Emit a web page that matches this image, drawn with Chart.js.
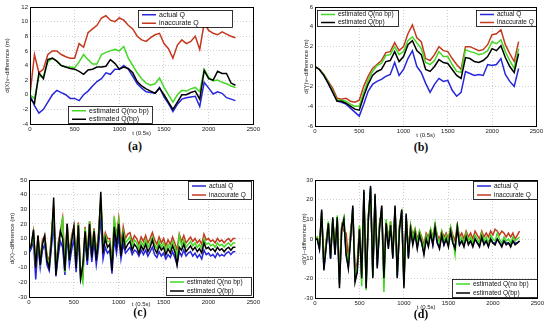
<!DOCTYPE html>
<html>
<head>
<meta charset="utf-8">
<script src="https://cdn.jsdelivr.net/npm/chart.js@4.4.1/dist/chart.umd.min.js"></script>
<style>
  body { margin: 0; background: #fff; width: 550px; height: 334px; position: relative; overflow: hidden; }
  canvas { position: absolute; }
  .tag { position: absolute; font: bold 12px "Liberation Serif", "DejaVu Serif", serif; transform: translate(-50%, -50%); color: #111; }
</style>
</head>
<body>
<canvas id="chart-a" width="262" height="137" style="left:0;top:0"></canvas>
<canvas id="chart-b" width="242" height="139" style="left:303px;top:0"></canvas>
<canvas id="chart-c" width="262" height="141" style="left:0;top:167px"></canvas>
<canvas id="chart-d" width="245" height="144" style="left:301px;top:167px"></canvas>
<div class="tag" style="left:135px;top:146px">(a)</div>
<div class="tag" style="left:421px;top:147px">(b)</div>
<div class="tag" style="left:140px;top:312px">(c)</div>
<div class="tag" style="left:421px;top:314px">(d)</div>
<script>
// time axis, t in units of 0.5 s
const T50 = [0, 50, 100, 150, 200, 250, 300, 350, 400, 450, 500, 550, 600, 650, 700, 750, 800, 850, 900, 950,
  1000, 1050, 1100, 1150, 1200, 1250, 1300, 1350, 1400, 1450, 1500, 1550, 1600, 1650, 1700, 1750, 1800, 1850, 1900, 1950,
  2000, 2050, 2100, 2150, 2200, 2250, 2300]
const T25 = [0, 25, 50, 75, 100, 125, 150, 175, 200, 225, 250, 275, 300, 325, 350, 375, 400, 425, 450, 475,
  500, 525, 550, 575, 600, 625, 650, 675, 700, 725, 750, 775, 800, 825, 850, 875, 900, 925, 950, 975,
  1000, 1025, 1050, 1075, 1100, 1125, 1150, 1175, 1200, 1225, 1250, 1275, 1300, 1325, 1350, 1375, 1400, 1425, 1450, 1475,
  1500, 1525, 1550, 1575, 1600, 1625, 1650, 1675, 1700, 1725, 1750, 1775, 1800, 1825, 1850, 1875, 1900, 1925, 1950, 1975,
  2000, 2025, 2050, 2075, 2100, 2125, 2150, 2175, 2200, 2225, 2250, 2275, 2300]

// (a)
const A_ACTUAL = [0, -1.5, -2.5, -2, -1, 0, 0.6, 0.3, 0, -0.5, -0.5, -0.8, 0, 0.5, 1.2, 1.8, 2.2, 3, 2.8, 3.5,
  3.5, 4, 3.5, 2.5, 1.5, 0.9, 0.4, 0.3, 0.2, 1, -0.3, -1.2, -2.3, -1.3, -0.6, -0.4, -0.3, -0.2, -1.6, 1.7,
  0.9, 0.1, 0.4, 0.2, -0.4, -0.6, -0.8]
const A_INACC = [0, 5.5, 3, 3.5, 5.5, 6, 6, 5.5, 5.2, 5, 5, 7, 6.5, 8.5, 9, 9.5, 10.5, 10.8, 10.2, 10,
  10.5, 10.2, 9.5, 9, 8, 7.5, 7.3, 7.8, 8.2, 8.4, 7, 6.3, 5, 6.8, 7.5, 7, 7.3, 8, 6.2, 9.8,
  8.8, 8.4, 8.2, 8.6, 8.3, 8, 7.8]
const A_NOBP = [0, -0.5, 2.5, 2.5, 4.5, 5, 4.6, 4, 3.8, 3.8, 3.7, 4.5, 5.5, 4.8, 4.2, 4.2, 5.5, 5.8, 6, 6.2,
  6, 6.6, 5, 4, 3, 2.2, 1.6, 1.3, 1.5, 2.3, 1, 0, -1, 0, 0.6, 0.5, 0.8, 1, 0.4, 3.5,
  2.4, 1.9, 2, 1.7, 1.5, 1.2, 1]
const A_BP = [-0.5, -1.2, 3, 2.2, 4.8, 5, 4.6, 4, 3.8, 3.6, 3.5, 3.2, 2.8, 3.4, 3.5, 3.8, 3.8, 3.9, 4.8, 4.3,
  3.5, 3.8, 3.6, 3, 1.8, 1.2, 0.8, 0.5, 0.2, 0.9, 0, -1, -2, -1, 0, 0, 0.3, 0.5, -0.6, 3.3,
  2.2, 2, 3.2, 2.9, 2.9, 1.6, 1.3]

// (b)
const B_ACTUAL = [0, -0.3, -0.9, -1.7, -2.6, -3.5, -3.6, -3.8, -4.2, -4.6, -5, -3.8, -2.5, -1.8, -1.5, -1.3, -1, -0.8, 0.4, -0.9,
  -0.3, 0.8, 1.6, 0, -0.6, -1.7, -2.6, -1.8, -1.2, -1.5, -1.4, -2.4, -3, -2.6, -0.5, -0.7, -0.9, -0.8, -0.9, 0.2,
  0.1, 0.2, 0.8, -0.8, -1.5, -2, -0.2]
const B_INACC = [0, -0.3, -0.8, -1.5, -2.2, -3.2, -3.3, -3.2, -3.5, -3.6, -3.4, -2, -1, -0.2, 0.2, 0.6, 1.4, 1.5, 2.4, 1.6,
  2, 3.3, 4.2, 2.9, 2.5, 0.8, 0.6, 1.2, 2, 1.6, 1.5, 0.8, 0.2, -0.3, 2, 2, 1.8, 1.6, 1.7, 2.2,
  3.2, 3.3, 3.7, 2.2, 1.3, 0.5, 2.5]
const B_NOBP = [0, -0.3, -0.8, -1.6, -2.5, -3.4, -3.4, -3.5, -3.8, -4, -4, -2.6, -1.4, -0.5, 0.1, 0.3, 1.1, 1.2, 2, 1.2,
  1.5, 2.6, 3, 2.4, 1.8, 0.4, 0.2, 0.6, 1.5, 1, 1, 0.2, -0.5, -0.6, 1.7, 1.5, 1.4, 1.2, 1.3, 1.6,
  2.5, 2.3, 2.7, 1.5, 0.6, -0.2, 1.8]
const B_BP = [0, -0.3, -0.9, -1.7, -2.6, -3.5, -3.5, -3.7, -4, -4.3, -4.4, -3, -1.8, -0.9, -0.5, -0.3, 0.5, 0.6, 1.5, 0.5,
  1, 2.2, 2.6, 1.6, 1.2, -0.3, -0.5, 0, 0.7, 0.4, 0.3, -0.3, -0.9, -1.2, 0.9, 0.8, 0.5, 0.4, 0.6, 1,
  1.8, 1.6, 2.1, 0.9, 0, -0.6, 1.3]

// (c)
const C_ACTUAL = [0, 3, 8, -18, 6, -10, 2, 6, -8, -12, 4, 20, -16, -2, 8, 4, -15, 12, -8, 2,
  10, -13, 12, -18, -12, 8, -8, 12, -6, 8, -8, 4, 25, -4, 4, 0, 2, -14, 10, 0,
  12, -4, 6, 0, 2, 4, -1, 2, 1, -2, 2, -1, 2, -2, 1, 4, -1, -3, 1, -2,
  0, -4, -1, -3, 1, -3, -8, 1, -2, 2, -2, 0, 1, -2, 0, -3, -1, -4, 2, -1,
  0, -2, -1, -3, 0, -2, -1, -2, 0, 1, -1, 1, 1]
const C_INACC = [3, 6, 15, -10, 12, -4, 9, 12, -1, -6, 12, 32, -10, 7, 15, 24, -10, 20, 0, 12,
  18, -6, 21, -12, -16, 18, -1, 22, 2, 17, 0, 14, 36, 6, 14, 10, 10, -6, 22, 12,
  24, 6, 18, 10, 13, 14, 8, 12, 10, 6, 11, 8, 12, 7, 10, 14, 9, 6, 11, 7,
  10, 5, 9, 6, 11, 7, 2, 13, 8, 12, 7, 9, 11, 8, 10, 7, 9, 6, 13, 9,
  10, 8, 9, 7, 10, 8, 9, 7, 9, 10, 8, 10, 10]
const C_NOBP = [2, 5, 14, -8, 10, -6, 7, 10, -3, -8, 10, 30, -12, 5, 13, 25, -13, 18, -2, 10,
  16, -8, 20, -14, -20, 17, -3, 22, 0, 16, -2, 12, 38, 4, 12, 8, 8, -8, 25, 10,
  22, 2, 15, 7, 9, 11, 5, 9, 7, 3, 8, 5, 9, 4, 7, 11, 6, 3, 8, 4,
  7, 2, 6, 3, 8, 4, -3, 12, 5, 9, 4, 6, 8, 5, 7, 4, 6, 3, 10, 6,
  7, 5, 6, 4, 7, 5, 6, 4, 6, 7, 5, 7, 7]
const C_BP = [2, 5, 16, -10, 12, -8, 6, 12, -5, -10, 8, 38, -15, 2, 15, 10, -12, 20, -5, 8,
  18, -10, 19, -17, -8, 15, -5, 20, -3, 15, -5, 10, 42, 0, 10, 4, 6, -12, 18, 5,
  20, -2, 12, 3, 6, 8, 2, 6, 4, 0, 5, 2, 6, 1, 4, 9, 3, 0, 5, 2,
  4, -1, 3, 0, 5, 1, -8, 4, 2, 6, 1, 3, 5, 2, 4, 1, 3, 0, 7, 3,
  4, 2, 3, 1, 4, 2, 3, 1, 3, 4, 2, 4, 4]

// (d)
const D_ACTUAL = [0, 0, -5, 14, -15, -4, 7, -10, 10, -8, 10, -23, 5, 9, -8, -14, 0, 16, -20, -16,
  5, -19, 24, -24, 10, 26, -19, 22, -14, 5, 16, -20, 8, -4, 7, -9, 16, -19, 5, 14,
  -23, 12, -9, 5, -2, 3, -4, 2, -2, -7, 0, -3, 3, -3, 5, -2, -4, 2, -3, 0,
  -3, 4, -2, -4, 5, -3, -1, -3, 1, -2, -1, -3, 0, -2, -3, 1, -2, -1, -3, 0,
  -2, -2, 0, -2, -3, -1, -2, -2, -3, -1, -2, -2, -1]
const D_INACC = [0, 1, -3, 12, -12, -1, 8, -7, 9, -5, 10, -18, 7, 4, 3, -10, 4, 13, -15, -12,
  6, -18, 20, -20, 12, 22, -15, 19, -10, 8, 14, -18, 9, 0, 9, -6, 14, -14, 7, 12,
  -20, 10, -5, 7, 2, 5, 0, 4, 1, -3, 3, 1, 5, 1, 7, 2, 0, 4, 1, 3,
  0, 6, 2, -1, 7, 1, 3, 0, 4, 1, 3, 0, 4, 2, 0, 4, 1, 3, 1, 4,
  2, 5, 4, 2, 4, 3, 1, 3, 1, 3, 0, 2, 4]
const D_NOBP = [0, 1, -4, 13, -14, -2, 9, -8, 10, -6, 12, -22, 6, 11, -6, -12, 2, 15, -18, -15,
  7, -24, 23, -26, 12, 25, -18, 21, -12, 7, 15, -27, 10, -2, 9, -8, 15, -17, 7, 13,
  -24, 11, -7, 7, 0, 5, -2, 4, 0, -5, 2, -1, 5, 0, 8, 1, -2, 4, -1, 2,
  -2, 6, 0, -8, 8, -1, 1, -2, 3, -1, 1, -2, 2, 0, -2, 3, -1, 1, -2, 2,
  0, -1, 3, 0, -2, 1, -1, 0, -2, 1, -1, 0, 1]
const D_BP = [0, 0, -5, 15, -16, -4, 8, -10, 11, -8, 11, -25, 5, 10, -8, -15, 0, 17, -22, -17,
  5, -20, 25, -25, 10, 27, -20, 23, -15, 5, 17, -20, 8, -5, 7, -10, 17, -20, 5, 15,
  -25, 13, -10, 5, -3, 3, -5, 2, -2, -8, 0, -4, 3, -3, 6, -2, -5, 2, -3, 0,
  -4, 4, -2, -5, 6, -3, -1, -4, 1, -3, -1, -4, 0, -2, -4, 1, -3, -1, -4, 0,
  -2, -3, 0, -2, -4, -1, -3, -2, -4, -1, -3, -2, -1]

const COLOR_ACTUAL = '#2626dc'
const COLOR_INACC = '#c4381e'
const COLOR_NOBP = '#44d824'
const COLOR_BP = '#000000'

const ACTUAL_ITEMS = [{ label: 'actual Q', color: COLOR_ACTUAL }, { label: 'inaccurate Q', color: COLOR_INACC }]
const EST_ITEMS = [{ label: 'estimated Q(no bp)', color: COLOR_NOBP }, { label: 'estimated Q(bp)', color: COLOR_BP }]

// frame around the plot + the two boxed legends that sit inside it
const boxLegend = {
  id: 'boxLegend',
  afterDraw(chart, args, opts) {
    const ctx = chart.ctx
    const area = chart.chartArea
    ctx.save()
    ctx.strokeStyle = '#000'
    ctx.lineWidth = 1
    ctx.strokeRect(Math.round(area.left) + 0.5, Math.round(area.top) + 0.5, Math.round(area.width), Math.round(area.height))
    ;(opts.boxes || []).forEach(b => {
      var x = b.right !== undefined ? area.right - b.right - b.w : area.left + b.left
      var y = b.bottom !== undefined ? area.bottom - b.bottom - b.h : area.top + b.top
      x = Math.round(x); y = Math.round(y)
      ctx.fillStyle = '#fff'
      ctx.fillRect(x, y, b.w, b.h)
      ctx.strokeStyle = '#000'
      ctx.lineWidth = 0.8
      ctx.strokeRect(x + 0.5, y + 0.5, b.w, b.h)
      ctx.font = (b.font || 6.5) + 'px "Liberation Sans", Arial, sans-serif'
      ctx.textBaseline = 'middle'
      b.items.forEach((it, i) => {
        const cy = y + b.h / 4 + i * b.h / 2 + 0.5
        ctx.strokeStyle = it.color
        ctx.lineWidth = 1.5
        ctx.beginPath()
        ctx.moveTo(x + 4, cy)
        ctx.lineTo(x + 18, cy)
        ctx.stroke()
        ctx.fillStyle = '#111'
        ctx.fillText(it.label, x + 21, cy)
      })
    })
    ctx.restore()
  }
}

function pts(tt, vals) {
  return tt.map((t, i) => ({ x: t, y: vals[i] }))
}

function makePanel(id, p) {
  const datasets = [
    { data: pts(p.t, p.bp), borderColor: COLOR_BP },
    { data: pts(p.t, p.nobp), borderColor: COLOR_NOBP },
    { data: pts(p.t, p.inacc), borderColor: COLOR_INACC },
    { data: pts(p.t, p.actual), borderColor: COLOR_ACTUAL },
  ]
  datasets.forEach(d => { d.borderWidth = 1.5; d.pointRadius = 0; d.tension = 0; d.fill = false })

  const tickFont = { family: '"Liberation Sans", Arial, sans-serif', size: 6 }
  return new Chart(document.getElementById(id), {
    type: 'line',
    data: { datasets: datasets },
    options: {
      responsive: false,
      animation: false,
      layout: { padding: p.padding },
      plugins: {
        legend: { display: false },
        tooltip: { enabled: false },
        boxLegend: { boxes: p.boxes }
      },
      scales: {
        x: {
          type: 'linear', min: 0, max: 2500,
          ticks: { stepSize: 500, font: tickFont, color: '#222', padding: 2, maxRotation: 0, callback: v => String(v) },
          grid: { color: '#c4c4c4', lineWidth: 0.8, drawTicks: false },
          border: { display: false, dash: [1, 2] },
          title: { display: true, text: 't (0.5s)', font: tickFont, color: '#222', padding: 0 },
          afterFit: s => { s.height = p.xh }
        },
        y: {
          min: p.ymin, max: p.ymax,
          ticks: { stepSize: p.ystep, font: tickFont, color: '#222', padding: 2 },
          grid: { color: '#c4c4c4', lineWidth: 0.8, drawTicks: false },
          border: { display: false, dash: [1, 2] },
          title: { display: true, text: p.ytitle, font: tickFont, color: '#222', padding: 0 },
          afterFit: s => { s.width = p.yw }
        }
      }
    },
    plugins: [boxLegend]
  })
}

makePanel('chart-a', {
  t: T50, actual: A_ACTUAL, inacc: A_INACC, nobp: A_NOBP, bp: A_BP,
  ymin: -4, ymax: 12, ystep: 2, ytitle: 'd(X)v\u2013difference (m)',
  padding: { left: 4, top: 7, right: 7, bottom: 0 }, yw: 26, xh: 13,
  boxes: [
    { left: 108, top: 3, w: 94, h: 17, font: 7, items: ACTUAL_ITEMS },
    { left: 38, bottom: 1, w: 84, h: 17, font: 7, items: EST_ITEMS }
  ]
})

makePanel('chart-b', {
  t: T50, actual: B_ACTUAL, inacc: B_INACC, nobp: B_NOBP, bp: B_BP,
  ymin: -6, ymax: 6, ystep: 2, ytitle: 'd(Y)v\u2013difference (m)',
  padding: { left: 0, top: 7, right: 8, bottom: 0 }, yw: 12, xh: 13,
  boxes: [
    { left: 2, top: 3, w: 81, h: 16, items: EST_ITEMS },
    { right: 0, top: 3, w: 60, h: 16, items: ACTUAL_ITEMS }
  ]
})

makePanel('chart-c', {
  t: T25, actual: C_ACTUAL, inacc: C_INACC, nobp: C_NOBP, bp: C_BP,
  ymin: -30, ymax: 50, ystep: 10, ytitle: 'd(X)\u2013difference (m)',
  padding: { left: 9, top: 13, right: 7, bottom: 0 }, yw: 20, xh: 11,
  boxes: [
    { right: 2, top: 1, w: 63, h: 18, items: ACTUAL_ITEMS },
    { right: 2, bottom: 2, w: 85, h: 18, items: EST_ITEMS }
  ]
})

makePanel('chart-d', {
  t: T25, actual: D_ACTUAL, inacc: D_INACC, nobp: D_NOBP, bp: D_BP,
  ymin: -30, ymax: 30, ystep: 10, ytitle: 'd(Y)\u2013difference (m)',
  padding: { left: 0, top: 13, right: 8, bottom: 0 }, yw: 14, xh: 13,
  boxes: [
    { right: 0, top: 1, w: 64, h: 18, items: ACTUAL_ITEMS },
    { right: 0, bottom: 1, w: 85, h: 18, items: EST_ITEMS }
  ]
})
</script>
</body>
</html>
